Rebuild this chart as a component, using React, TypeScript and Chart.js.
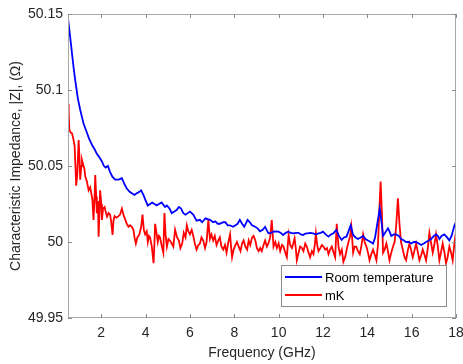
import React, { useEffect, useRef } from "react";
import { Chart, registerables } from "chart.js";

Chart.register(...registerables);

const xTicks = [2, 4, 6, 8, 10, 12, 14, 16, 18];
const yTicks = [49.95, 50, 50.05, 50.1, 50.15];
const seriesNames = ["Room temperature", "mK"];
const xTitle = "Frequency (GHz)";
const yTitle = "Characteristic Impedance, |Z|, (Ω)";

const roomFreq = [
  0.5, 0.55, 0.65, 0.75, 0.83, 0.95, 1.05, 1.2, 1.35, 1.45, 1.58, 1.7, 1.8, 1.9, 2.03, 2.12, 2.2, 2.3, 2.4, 2.5,
  2.63, 2.78, 2.93, 3.05, 3.16, 3.28, 3.38, 3.5, 3.6, 3.72, 3.8, 3.9, 3.98, 4.1, 4.2, 4.3, 4.4, 4.5, 4.6, 4.72,
  4.88, 4.96, 5.08, 5.18, 5.3, 5.4, 5.5, 5.6, 5.7, 5.8, 5.9, 6.0, 6.15, 6.3, 6.45, 6.55, 6.7, 6.8, 6.9, 7.05,
  7.15, 7.25, 7.35, 7.5, 7.6, 7.7, 7.8, 7.95, 8.05, 8.15, 8.25, 8.35, 8.45, 8.6, 8.7, 8.8, 8.94, 9.05, 9.16, 9.28,
  9.39, 9.54, 9.65, 9.76, 9.88, 9.99, 10.1, 10.2, 10.32, 10.43, 10.55, 10.66, 10.78, 10.9, 11.0, 11.1, 11.2, 11.3, 11.43, 11.55,
  11.68, 11.8, 11.9, 12.0, 12.12, 12.25, 12.36, 12.47, 12.6, 12.72, 12.84, 12.95, 13.06, 13.15, 13.25, 13.36, 13.47, 13.58, 13.7, 13.81,
  13.92, 14.03, 14.15, 14.26, 14.35, 14.45, 14.56, 14.65, 14.71, 14.8, 14.93, 15.0, 15.08, 15.2, 15.3, 15.42, 15.53, 15.65, 15.75, 15.87,
  15.98, 16.1, 16.2, 16.32, 16.43, 16.55, 16.65, 16.77, 16.88, 17.0, 17.1, 17.18, 17.25, 17.35, 17.47, 17.6, 17.7, 17.8, 17.93, 18.0,
];
const roomZ = [
  50.147, 50.141, 50.128, 50.115, 50.106, 50.094, 50.087, 50.078, 50.072, 50.068, 50.064, 50.061, 50.058, 50.056, 50.053, 50.05, 50.049, 50.05, 50.046, 50.043,
  50.041, 50.041, 50.042, 50.038, 50.035, 50.033, 50.032, 50.031, 50.032, 50.033, 50.034, 50.031, 50.028, 50.024, 50.025, 50.026, 50.025, 50.024, 50.025, 50.026,
  50.023, 50.024, 50.022, 50.019, 50.02, 50.021, 50.023, 50.022, 50.019, 50.018, 50.019, 50.02, 50.018, 50.014, 50.0146, 50.013, 50.0156, 50.015, 50.0146, 50.013,
  50.0136, 50.012, 50.012, 50.013, 50.013, 50.011, 50.011, 50.01, 50.011, 50.012, 50.0146, 50.012, 50.01, 50.0146, 50.013, 50.011, 50.01, 50.009, 50.007, 50.008,
  50.01, 50.0057, 50.006, 50.0068, 50.007, 50.0068, 50.006, 50.0046, 50.006, 50.0068, 50.006, 50.0057, 50.006, 50.006, 50.005, 50.0046, 50.0055, 50.0057, 50.006, 50.0057,
  50.005, 50.0057, 50.006, 50.0068, 50.005, 50.0035, 50.005, 50.0057, 50.008, 50.004, 50.0014, 50.003, 50.0035, 50.007, 50.011, 50.0046, 50.003, 50.002, 50.003, 50.004,
  50.002, 50.001, 50.0, 49.999, 50.003, 50.012, 50.022, 50.012, 50.004, 50.006, 50.009, 50.007, 50.004, 50.005, 50.005, 50.004, 50.002, 50.001, 50.0, 50.0,
  49.999, 50.0, 50.0, 49.999, 49.998, 49.999, 50.0, 50.001, 50.002, 50.004, 50.005, 50.004, 50.002, 50.004, 50.005, 50.003, 50.001, 50.004, 50.011, 50.013,
];

const mkFreq = [
  0.5, 0.53, 0.56, 0.62, 0.68, 0.74, 0.8, 0.84, 0.87, 0.92, 0.98, 1.02, 1.05, 1.1, 1.13, 1.2, 1.24, 1.28, 1.35, 1.43,
  1.5, 1.55, 1.6, 1.65, 1.7, 1.73, 1.77, 1.8, 1.85, 1.88, 1.92, 1.95, 2.0, 2.03, 2.08, 2.15, 2.2, 2.26, 2.33, 2.4,
  2.45, 2.51, 2.55, 2.6, 2.68, 2.78, 2.85, 2.93, 3.0, 3.05, 3.15, 3.23, 3.3, 3.38, 3.45, 3.5, 3.56, 3.63, 3.72, 3.8,
  3.86, 3.92, 3.98, 4.05, 4.1, 4.15, 4.2, 4.28, 4.36, 4.4, 4.43, 4.5, 4.55, 4.6, 4.65, 4.72, 4.8, 4.85, 4.9, 4.96,
  5.03, 5.1, 5.18, 5.25, 5.33, 5.42, 5.5, 5.57, 5.65, 5.72, 5.8, 5.86, 5.93, 6.0, 6.08, 6.15, 6.22, 6.3, 6.38, 6.45,
  6.52, 6.6, 6.68, 6.75, 6.83, 6.9, 6.97, 7.05, 7.12, 7.2, 7.28, 7.35, 7.42, 7.5, 7.58, 7.65, 7.72, 7.81, 7.86, 7.9,
  7.97, 8.05, 8.12, 8.2, 8.28, 8.35, 8.42, 8.5, 8.58, 8.65, 8.72, 8.8, 8.87, 8.95, 9.02, 9.1, 9.17, 9.24, 9.32, 9.39,
  9.47, 9.54, 9.62, 9.69, 9.77, 9.85, 9.92, 10.0, 10.07, 10.15, 10.22, 10.3, 10.37, 10.45, 10.52, 10.6, 10.66, 10.72, 10.78, 10.82,
  10.9, 10.97, 11.05, 11.12, 11.2, 11.27, 11.35, 11.42, 11.5, 11.57, 11.63, 11.68, 11.74, 11.8, 11.88, 11.95, 12.02, 12.1, 12.18, 12.25,
  12.32, 12.4, 12.48, 12.55, 12.62, 12.7, 12.77, 12.85, 12.92, 13.0, 13.07, 13.15, 13.22, 13.28, 13.36, 13.43, 13.5, 13.58, 13.66, 13.74,
  13.81, 13.88, 13.96, 14.03, 14.1, 14.18, 14.26, 14.33, 14.41, 14.48, 14.54, 14.6, 14.66, 14.71, 14.78, 14.86, 14.93, 15.0, 15.08, 15.16,
  15.23, 15.3, 15.38, 15.45, 15.52, 15.6, 15.68, 15.75, 15.82, 15.9, 15.97, 16.05, 16.12, 16.2, 16.27, 16.35, 16.42, 16.5, 16.57, 16.65,
  16.72, 16.8, 16.88, 16.95, 17.02, 17.1, 17.18, 17.25, 17.32, 17.4, 17.48, 17.55, 17.62, 17.7, 17.78, 17.85, 17.92, 18.0,
];
const mkZ = [
  50.091, 50.085, 50.074, 50.072, 50.0715, 50.068, 50.063, 50.048, 50.037, 50.045, 50.067, 50.055, 50.041, 50.05, 50.054, 50.05, 50.048, 50.043, 50.04, 50.034,
  50.036, 50.032, 50.028, 50.0145, 50.03, 50.044, 50.03, 50.019, 50.027, 50.0035, 50.02, 50.034, 50.025, 50.0145, 50.022, 50.023, 50.02, 50.0167, 50.019, 50.018,
  50.013, 50.0046, 50.014, 50.017, 50.016, 50.017, 50.018, 50.022, 50.018, 50.016, 50.012, 50.01, 50.011, 50.01, 50.008, 50.003, 49.999, 50.003, 50.005, 50.01,
  50.018, 50.008, 50.005, 50.007, 50.0, 50.004, 50.003, 49.997, 49.986, 50.0, 50.012, 50.005, 50.0, 50.004, 50.003, 49.998, 49.993, 50.019, 50.005, 49.997,
  50.002, 50.001, 49.999, 49.997, 50.008, 50.003, 50.001, 49.996, 49.999, 50.006, 50.003, 50.011, 50.007, 50.005, 50.008, 50.004, 49.999, 49.995, 49.998, 49.999,
  50.003, 50.001, 49.996, 50.0, 50.0145, 50.002, 50.005, 50.001, 50.004, 49.998, 50.001, 50.003, 49.997, 49.995, 49.998, 49.993, 49.999, 50.005, 49.996, 49.99,
  49.995, 49.998, 50.0, 49.997, 49.994, 49.999, 50.001, 49.997, 49.995, 50.001, 49.998, 50.003, 50.004, 50.001, 49.996, 49.994, 49.996, 49.994, 49.998, 50.001,
  49.997, 49.999, 50.003, 50.0145, 49.997, 50.0, 49.996, 49.999, 49.994, 49.998, 49.997, 49.993, 49.99, 50.0046, 49.998, 49.996, 49.999, 50.0024, 49.995, 49.988,
  49.993, 49.997, 49.996, 49.994, 49.999, 49.997, 49.993, 49.99, 49.994, 49.992, 49.998, 50.0057, 49.998, 49.994, 49.996, 49.998, 49.997, 49.995, 49.996, 49.992,
  49.995, 49.997, 49.993, 49.99, 50.012, 49.997, 49.992, 49.995, 49.987, 49.99, 49.995, 50.0, 50.0035, 50.01, 49.993, 49.997, 49.997, 49.994, 49.992, 49.998,
  50.005, 50.0, 49.997, 49.993, 49.988, 49.992, 49.995, 49.992, 49.988, 49.998, 50.02, 50.0397, 50.018, 49.993, 49.995, 49.999, 49.994, 49.988, 49.993, 49.997,
  50.0, 50.01, 50.0287, 50.012, 50.0, 49.995, 49.99, 49.988, 49.994, 49.999, 49.995, 49.99, 49.994, 49.999, 49.994, 49.988, 49.991, 49.995, 49.992, 49.988,
  49.995, 50.006, 49.999, 49.993, 49.998, 50.005, 49.997, 49.988, 49.993, 49.999, 49.993, 49.986, 49.99, 49.997, 49.993, 49.988, 49.998, 50.007,
];

const FONT = "'Liberation Sans', Arial, Helvetica, sans-serif";
const TEXT = "#262626";
const AXIS = "#a8a8a8";
const COLORS = ["#0000ff", "#ff0000"];

export default function App() {
  const ref = useRef<HTMLCanvasElement>(null);

  useEffect(() => {
    if (!ref.current) return;
    const boxPlugin = {
      id: "matlabBox",
      afterDatasetsDraw(chart: any) {
        const { ctx, chartArea } = chart;
        const { left, right, top, bottom } = chartArea;
        const xs = chart.scales.x;
        const ys = chart.scales.y;
        ctx.save();
        ctx.strokeStyle = AXIS;
        ctx.lineWidth = 1;
        ctx.strokeRect(left + 0.5, top + 0.5, right - left - 1, bottom - top - 1);
        ctx.strokeStyle = "#8a8a8a";
        const tl = 4;
        ctx.beginPath();
        xTicks.forEach((v) => {
          const px = Math.round(xs.getPixelForValue(v)) + 0.5;
          ctx.moveTo(px, bottom);
          ctx.lineTo(px, bottom - tl);
          ctx.moveTo(px, top);
          ctx.lineTo(px, top + tl);
        });
        yTicks.forEach((v) => {
          const py = Math.round(ys.getPixelForValue(v)) + 0.5;
          ctx.moveTo(left, py);
          ctx.lineTo(left + tl, py);
          ctx.moveTo(right, py);
          ctx.lineTo(right - tl, py);
        });
        ctx.stroke();

        // legend inside the axes, lower right
        const bw = 165;
        const bh = 41;
        const bx = right - 10 - bw;
        const by = bottom - 12 - bh;
        ctx.fillStyle = "#ffffff";
        ctx.fillRect(bx, by, bw, bh);
        ctx.strokeStyle = "#8c8c8c";
        ctx.strokeRect(bx + 0.5, by + 0.5, bw, bh);
        ctx.font = `13px ${FONT}`;
        ctx.textBaseline = "middle";
        ctx.textAlign = "left";
        seriesNames.forEach((name, i) => {
          const ly = by + 12 + i * 18;
          ctx.strokeStyle = COLORS[i];
          ctx.lineWidth = 2;
          ctx.beginPath();
          ctx.moveTo(bx + 4, ly);
          ctx.lineTo(bx + 41, ly);
          ctx.stroke();
          ctx.fillStyle = "#000000";
          ctx.fillText(name, bx + 44, ly + 1);
        });
        ctx.restore();
      },
    };

    const chart = new Chart(ref.current, {
      type: "line",
      data: {
        datasets: [
          {
            label: seriesNames[0],
            data: roomFreq.map((f, i) => ({ x: f, y: roomZ[i] })),
            borderColor: COLORS[0],
            borderWidth: 1.8,
            pointRadius: 0,
            tension: 0,
          },
          {
            label: seriesNames[1],
            data: mkFreq.map((f, i) => ({ x: f, y: mkZ[i] })),
            borderColor: COLORS[1],
            borderWidth: 1.8,
            pointRadius: 0,
            tension: 0,
          },
        ],
      },
      options: {
        animation: false,
        responsive: false,
        devicePixelRatio: 1,
        layout: { padding: { left: 0, right: 7, top: 14, bottom: 0 } },
        plugins: { legend: { display: false }, tooltip: { enabled: false } },
        scales: {
          x: {
            type: "linear",
            min: 0.5,
            max: 18,
            grid: { display: false, drawTicks: false, tickLength: 0 },
            border: { display: false },
            afterBuildTicks: (s: any) => {
              s.ticks = xTicks.map((v) => ({ value: v }));
            },
            afterFit: (s: any) => {
              s.height = 46;
              s.paddingLeft = 0;
              s.paddingRight = 0;
            },
            ticks: {
              color: TEXT,
              font: { family: FONT, size: 14 },
              padding: 7,
              maxRotation: 0,
              autoSkip: false,
              callback: (v: any) => String(v),
            },
            title: {
              display: true,
              text: xTitle,
              color: TEXT,
              font: { family: FONT, size: 14 },
              padding: { top: 0, bottom: 2 },
            },
          },
          y: {
            type: "linear",
            min: 49.95,
            max: 50.15,
            grid: { display: false, drawTicks: false, tickLength: 0 },
            border: { display: false },
            afterBuildTicks: (s: any) => {
              s.ticks = yTicks.map((v) => ({ value: v }));
            },
            afterFit: (s: any) => {
              s.width = 68;
              s.paddingTop = 0;
              s.paddingBottom = 0;
            },
            ticks: {
              color: TEXT,
              font: { family: FONT, size: 14 },
              padding: 5,
              autoSkip: false,
              callback: (v: any) => String(Number(Number(v).toFixed(2))),
            },
            title: {
              display: true,
              text: yTitle,
              color: TEXT,
              font: { family: FONT, size: 14 },
              padding: { top: 8, bottom: 0 },
            },
          },
        },
      },
      plugins: [boxPlugin],
    });
    return () => chart.destroy();
  }, []);

  return (
    <div style={{ position: "absolute", left: 0, top: 0, width: 463, height: 364, background: "#fff" }}>
      <canvas ref={ref} width={463} height={364} style={{ display: "block" }} />
    </div>
  );
}
